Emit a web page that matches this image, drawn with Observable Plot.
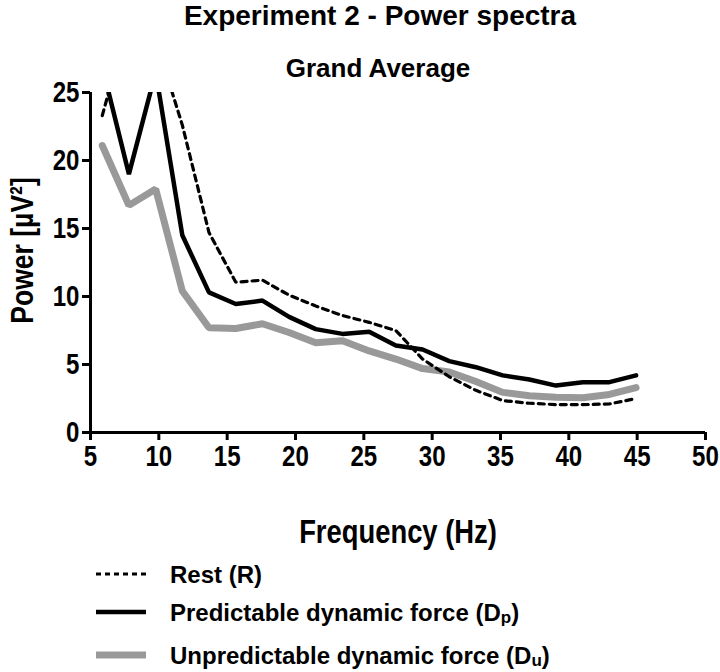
<!DOCTYPE html>
<html>
<head>
<meta charset="utf-8">
<script src="https://cdn.jsdelivr.net/npm/d3@7"></script>
<script src="https://cdn.jsdelivr.net/npm/@observablehq/plot@0.6"></script>
<style>
  body { margin: 0; background: #fff; }
  #page { width: 720px; height: 672px; position: relative; font-family: "Liberation Sans", Arial, Helvetica, sans-serif; font-weight: bold; color: #000; }
  #head { position: relative; height: 80px; }
  .t { position: absolute; left: 0; text-align: center; white-space: nowrap; }
  #chart svg { display: block; }
  #legend { position: relative; height: 112px; }
</style>
</head>
<body>
<div id="page">
  <div id="head">
    <div class="t" style="top:-1px;width:760px;font-size:28px;line-height:34px;">Experiment 2 - Power spectra</div>
    <div class="t" style="top:52px;width:756px;font-size:26px;line-height:32px;">Grand Average</div>
  </div>
  <div id="chart"></div>
  <div id="legend"></div>
</div>
<script>
// Frequencies (Hz) of the spectral bins
const freq = [5.86, 7.81, 9.77, 11.72, 13.67, 15.63, 17.58, 19.53, 21.48, 23.44, 25.39, 27.34, 29.30, 31.25, 33.20, 35.16, 37.11, 39.06, 41.02, 42.97, 44.92];
// Power (µV²) per condition
const rest = [23.3, 30.4, 28.9, 22.6, 14.7, 11.05, 11.2, 10.1, 9.3, 8.6, 8.1, 7.5, 5.4, 4.1, 3.1, 2.35, 2.15, 2.05, 2.05, 2.1, 2.5];
const predictable = [26.9, 19.0, 26.5, 14.5, 10.3, 9.45, 9.7, 8.5, 7.6, 7.25, 7.4, 6.4, 6.1, 5.25, 4.8, 4.2, 3.9, 3.45, 3.7, 3.7, 4.2];
const unpredictable = [21.1, 16.7, 17.9, 10.4, 7.7, 7.65, 8.0, 7.35, 6.6, 6.75, 6.0, 5.4, 4.7, 4.45, 3.75, 2.95, 2.7, 2.6, 2.55, 2.8, 3.3];
const seriesNames = ["Rest (R)", "Predictable dynamic force (D", "Unpredictable dynamic force (D"];
const seriesSubs = ["", "p", "u"];
const xTicks = [5, 10, 15, 20, 25, 30, 35, 40, 45, 50];
const yTicks = [0, 5, 10, 15, 20, 25];
const xLabel = "Frequency (Hz)";
const yLabel = "Power [µV²]";

const toRows = (vals) => freq.map((f, i) => ({f, v: vals[i]}));

const font = '"Liberation Sans", Arial, Helvetica, sans-serif';

const chart = Plot.plot({
  width: 720,
  height: 480,
  marginLeft: 90,
  marginRight: 15,
  marginTop: 12,
  marginBottom: 128,
  style: {fontFamily: font, fontWeight: "bold", color: "#000", background: "#fff", overflow: "visible"},
  x: {domain: [5, 50]},
  y: {domain: [0, 25]},
  marks: [
    Plot.axisX({ticks: xTicks, tickSize: 8, tickPadding: 5, strokeWidth: 3, fontSize: 29, fontWeight: "bold", label: null, tickFormat: d => String(d)}),
    Plot.axisY({ticks: yTicks, tickSize: 8, tickPadding: 3, strokeWidth: 3, fontSize: 29, fontWeight: "bold", label: null, tickFormat: d => String(d)}),
    Plot.ruleY([0], {stroke: "#000", strokeWidth: 3}),
    Plot.ruleX([5], {stroke: "#000", strokeWidth: 3}),
    Plot.line(toRows(unpredictable), {x: "f", y: "v", stroke: "#999999", strokeWidth: 7, strokeLinejoin: "miter", clip: true}),
    Plot.line(toRows(predictable), {x: "f", y: "v", stroke: "#000", strokeWidth: 4.5, strokeLinejoin: "miter", clip: true}),
    Plot.line(toRows(rest), {x: "f", y: "v", stroke: "#000", strokeWidth: 3.2, strokeDasharray: "6,5", strokeLinejoin: "miter", clip: true}),
    Plot.text([xLabel], {frameAnchor: "bottom", textAnchor: "middle", lineAnchor: "middle", dy: 100, fontSize: 33, fontWeight: "bold", fill: "#000"}),
    Plot.text([yLabel], {frameAnchor: "left", textAnchor: "middle", lineAnchor: "middle", dx: -68, dy: -12, rotate: -90, fontSize: 32, fontWeight: "bold", fill: "#000"})
  ]
});
// The reference uses a narrow face for axis text: condense horizontally about each label's anchor
chart.querySelectorAll("text").forEach(t => {
  const tr = t.getAttribute("transform") || "";
  t.setAttribute("transform", (tr + " scale(0.83,1)").trim());
});
document.getElementById("chart").appendChild(chart);

// Legend
const ns = "http://www.w3.org/2000/svg";
const lg = document.createElementNS(ns, "svg");
lg.setAttribute("width", 720);
lg.setAttribute("height", 112);
lg.style.display = "block";
const styles = [
  {stroke: "#000", w: 2.8, dash: "5,4"},
  {stroke: "#000", w: 4.5, dash: null},
  {stroke: "#999999", w: 7, dash: null}
];
const rowsY = [14, 52, 95];
seriesNames.forEach((name, i) => {
  const l = document.createElementNS(ns, "line");
  l.setAttribute("x1", 96); l.setAttribute("x2", 146);
  l.setAttribute("y1", rowsY[i]); l.setAttribute("y2", rowsY[i]);
  l.setAttribute("stroke", styles[i].stroke);
  l.setAttribute("stroke-width", styles[i].w);
  if (styles[i].dash) l.setAttribute("stroke-dasharray", styles[i].dash);
  lg.appendChild(l);
  const t = document.createElementNS(ns, "text");
  t.setAttribute("x", 170);
  t.setAttribute("y", rowsY[i] + 9);
  t.setAttribute("font-family", font);
  t.setAttribute("font-weight", "bold");
  t.setAttribute("font-size", 24);
  t.textContent = name;
  if (seriesSubs[i]) {
    const s = document.createElementNS(ns, "tspan");
    s.setAttribute("font-size", 17);
    s.setAttribute("dy", 2);
    s.textContent = seriesSubs[i];
    t.appendChild(s);
    const c = document.createElementNS(ns, "tspan");
    c.setAttribute("dy", -2);
    c.textContent = ")";
    t.appendChild(c);
  }
  lg.appendChild(t);
});
document.getElementById("legend").appendChild(lg);
</script>
</body>
</html>
